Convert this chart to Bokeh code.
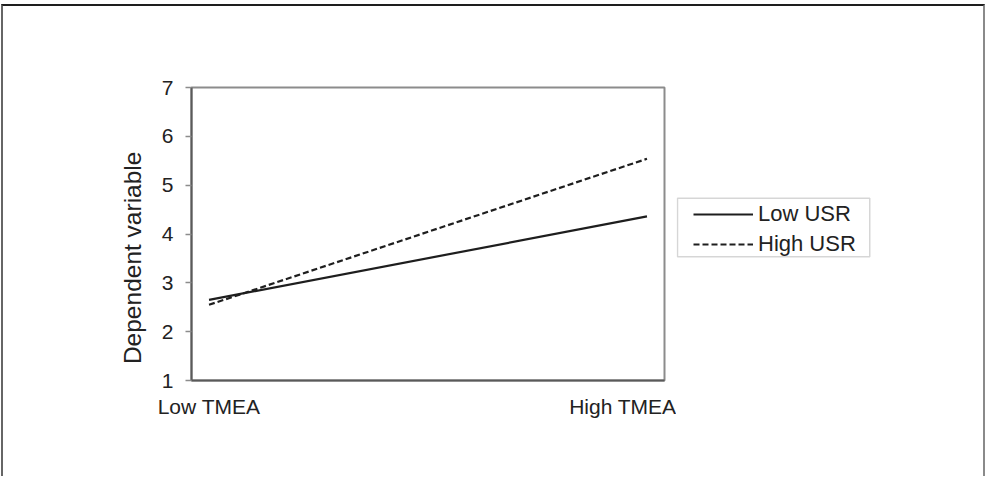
from bokeh.plotting import figure
from bokeh.models import Range1d, FixedTicker, Legend, LegendItem, BoxAnnotation
from bokeh.layouts import row
from bokeh.embed import file_html
from bokeh.resources import INLINE

# data
categories = ["Low TMEA", "High TMEA"]
x_pos = [0, 1]
low_usr = [2.65, 4.36]
high_usr = [2.55, 5.54]
y_ticks = [1, 2, 3, 4, 5, 6, 7]
y_title = "Dependent variable"
series_names = ["Low USR", "High USR"]

FONT = "Liberation Sans"
INK = "#1e1e1e"
NAN = float("nan")

# ---- main chart ----
p = figure(width=675, height=472, output_backend="svg", toolbar_location=None,
           x_range=Range1d(-0.04, 1.04), y_range=Range1d(1, 7),
           min_border_left=188, min_border_right=14, min_border_top=81, min_border_bottom=98)
p.styles = {"border-top": "2px solid #1e1e1e", "border-left": "2px solid #666666"}

p.grid.visible = False
p.outline_line_color = "#8c8c8c"
p.outline_line_width = 2
p.background_fill_color = "white"
p.border_fill_color = "white"

p.line(x_pos, low_usr, line_color=INK, line_width=2.2)
p.line(x_pos, high_usr, line_color=INK, line_width=2.2, line_dash="6 3")

p.xaxis.ticker = FixedTicker(ticks=x_pos)
p.xaxis.major_label_overrides = {x: c for x, c in zip(x_pos, categories)}
p.xaxis.major_tick_line_color = None
p.xaxis.minor_tick_line_color = None
p.xaxis.major_tick_out = 0
p.xaxis.major_label_standoff = 14

p.yaxis.ticker = FixedTicker(ticks=y_ticks)
p.yaxis.minor_tick_line_color = None
p.yaxis.major_tick_in = 0
p.yaxis.major_tick_out = 6
p.yaxis.major_tick_line_color = "#8c8c8c"
p.yaxis.major_tick_line_width = 1.5
p.yaxis.major_label_standoff = 12
p.yaxis.axis_label = y_title + "\u00a0" * 7
p.yaxis.axis_label_text_font = FONT
p.yaxis.axis_label_text_font_size = "24.5px"
p.yaxis.axis_label_text_font_style = "normal"
p.yaxis.axis_label_text_color = "#222222"
p.yaxis.axis_label_standoff = 13

for ax in (p.xaxis, p.yaxis):
    ax.axis_line_color = "#5a5a5a"
    ax.axis_line_width = 2
    ax.major_label_text_font = FONT
    ax.major_label_text_font_size = "21px"
    ax.major_label_text_color = "#222222"

# ---- legend panel ----
q = figure(width=309, height=472, output_backend="svg", toolbar_location=None,
           x_axis_location=None, y_axis_location=None,
           x_range=Range1d(0, 307), y_range=Range1d(1, 7),
           min_border_left=0, min_border_right=0, min_border_top=81, min_border_bottom=98)
q.styles = {"border-top": "2px solid #1e1e1e", "border-right": "2px solid #8a8a8a"}
q.grid.visible = False
q.outline_line_color = None
q.background_fill_color = "white"
q.border_fill_color = "white"

k1 = q.line([NAN], [NAN], line_color=INK, line_width=2.2)
k2 = q.line([NAN], [NAN], line_color=INK, line_width=2.2, line_dash="6 3")

legend = Legend(items=[LegendItem(label=series_names[0], renderers=[k1]),
                       LegendItem(label=series_names[1], renderers=[k2])],
                location=(1, 105), padding=16, margin=0, spacing=0,
                glyph_width=60, glyph_height=30, label_height=30, label_standoff=5,
                label_text_font=FONT, label_text_font_size="22px", label_text_color="#222222",
                border_line_color="#777777", border_line_alpha=0, background_fill_alpha=0)
q.add_layout(legend, "center")
q.add_layout(BoxAnnotation(left=1, right=192, bottom=3.536, top=4.732,
                           fill_alpha=0, line_color="#777777", line_width=1.5))

layout = row(p, q)
layout.styles = {"margin-left": "1px", "margin-top": "4px"}

open("out.html", "w").write(file_html(layout, INLINE))
